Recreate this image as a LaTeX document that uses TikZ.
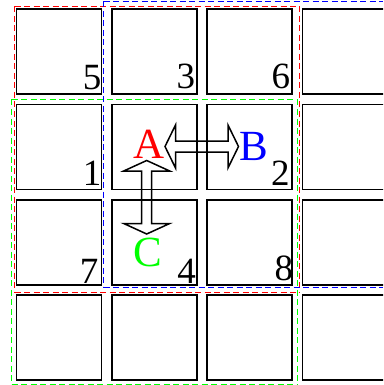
\documentclass[tikz,border=0pt]{standalone}
\usepackage{fontspec}
\setmainfont{Liberation Serif}
\usetikzlibrary{calc}
\newcommand\hdashes[4]{% colour, y, x1, x2
  \pgfmathtruncatemacro\ndsh{(#4-#3)/9.5}
  \foreach \k in {0,...,\ndsh}{
    \pgfmathsetmacro\dxa{#3+9.5*\k}
    \pgfmathsetmacro\dxb{min(\dxa+6,#4)}
    \draw[seg,#1] (\dxa,#2) -- (\dxb,#2);
  }}
\newcommand\vdashes[4]{% colour, x, y1, y2
  \pgfmathtruncatemacro\ndsh{(#4-#3)/9.5}
  \foreach \k in {0,...,\ndsh}{
    \pgfmathsetmacro\dya{#3+9.5*\k}
    \pgfmathsetmacro\dyb{min(\dya+6,#4)}
    \draw[seg,#1] (#2,\dya) -- (#2,\dyb);
  }}
\begin{document}
\begin{tikzpicture}[x=1pt,y=-1pt,
  cell/.style={draw=black,line width=1.6pt,minimum size=85pt,inner sep=0pt},
  digit/.style={anchor=base east,inner sep=0pt,font=\fontsize{37}{37}\selectfont},
  letter/.style={anchor=base,inner sep=0pt,font=\fontsize{43}{43}\selectfont},
  seg/.style={line width=1.6pt,line cap=butt},
  dblarrow/.style={draw=black,line width=1.5pt,line join=miter}]
\useasboundingbox (0,0) rectangle (383,385);
\clip (0,0) rectangle (383,385);
% dashed regions: red
\hdashes{red}{6.5}{14.5}{299.5}
\hdashes{red}{292.5}{14.5}{299.5}
\vdashes{red}{14.5}{6.5}{292.5}
\vdashes{red}{299.5}{6.5}{292.5}
% blue
\hdashes{blue}{1.5}{103.5}{383}
\hdashes{blue}{287.5}{103.5}{383}
\vdashes{blue}{103.5}{1.5}{287.5}
% green
\hdashes{green}{99.5}{11.5}{297.5}
\hdashes{green}{384.5}{11.5}{297.5}
\vdashes{green}{11.5}{99.5}{385}
\vdashes{green}{297.5}{99.5}{385}
% cells
\foreach \i in {0,1,2,3}{
  \foreach \j in {0,1,2,3}{
    \node[cell] (c\i\j) at ({16.5+42.5+95.3*\i},{9.3+42.5+95.3*\j}) {};
  }
}
% digits
\node[digit] (n5) at (101.5,89.3) {5};
\node[digit] (n3) at (195.2,89) {3};
\node[digit] (n6) at (290.2,89) {6};
\node[digit] (n1) at (101.5,185) {1};
\node[digit] (n2) at (289.9,185) {2};
\node[digit] (n7) at (98.5,283.3) {7};
\node[digit] (n4) at (196,283) {4};
\node[digit] (n8) at (293.3,280) {8};
% letters
\node[letter,text=red] (A) at (149,158) {A};
\node[letter,text=blue] (B) at (253.7,160.5) {B};
\node[letter,text=green] (C) at (148.3,266.3) {C};
% horizontal double arrow
\coordinate (hl) at (165,146.5);
\coordinate (hr) at (238.5,146.5);
\draw[dblarrow] (hl) -- ++(10.5,-21.5) -- ++(0,16) -- ($(hr)+(-10.5,-5.5)$) -- ++(0,-16) -- (hr)
  -- ++(-10.5,21.5) -- ++(0,-16) -- ($(hl)+(10.5,5.5)$) -- ++(0,16) -- cycle;
% vertical double arrow
\coordinate (vt) at (146.7,160.5);
\coordinate (vb) at (146.7,234);
\draw[dblarrow] (vt) -- ++(23,10.5) -- ++(-18,0) -- ($(vb)+(5,-10.5)$) -- ++(18,0) -- (vb)
  -- ++(-23,-10.5) -- ++(18,0) -- ($(vt)+(-5,10.5)$) -- ++(-18,0) -- cycle;
\end{tikzpicture}
\end{document}
